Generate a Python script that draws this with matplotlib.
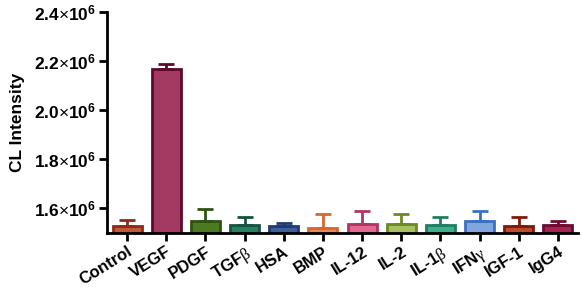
import matplotlib
matplotlib.use('Agg')
import matplotlib.pyplot as plt
import numpy as np

plt.rcParams['font.family'] = ['Liberation Sans', 'DejaVu Sans']
plt.rcParams['mathtext.fontset'] = 'custom'
plt.rcParams['mathtext.rm'] = 'Liberation Sans'
plt.rcParams['mathtext.bf'] = 'Liberation Sans:bold'
plt.rcParams['mathtext.it'] = 'Liberation Serif'

labels = ['Control', 'VEGF', 'PDGF', r'TGF$\beta$', 'HSA', 'BMP', 'IL-12',
          'IL-2', r'IL-1$\beta$', r'IFN$\gamma$', 'IGF-1', 'IgG4']
means = [1.527e6, 2.167e6, 1.547e6, 1.531e6, 1.528e6, 1.520e6, 1.537e6,
         1.537e6, 1.531e6, 1.548e6, 1.528e6, 1.532e6]
errs = [0.024e6, 0.022e6, 0.049e6, 0.032e6, 0.012e6, 0.056e6, 0.052e6,
        0.040e6, 0.034e6, 0.041e6, 0.035e6, 0.015e6]
fills = ['#c2583a', '#a33a62', '#4c7a22', '#2a7e66', '#3d5f9c', '#e9895a',
         '#df6b92', '#a9bf63', '#3fae8e', '#7fa6dd', '#bd4a2c', '#a32452']
edges = ['#8e2c16', '#5e0a2c', '#2f5410', '#145440', '#1f3a74', '#d2692f',
         '#b23465', '#6c8a22', '#1e8060', '#3a70c0', '#7e1a0c', '#6e0c30']
yticks = [1.6e6, 1.8e6, 2.0e6, 2.2e6, 2.4e6]

fig = plt.figure(figsize=(5.82, 2.89), dpi=100)
ax = fig.add_axes([0.184, 0.194, 0.809, 0.764])

x = np.arange(len(labels))
base = 1.5e6
ax.bar(x, np.array(means) - base, bottom=base, width=0.74, color=fills,
       edgecolor=edges, linewidth=2, zorder=2)
for xi, m, e, c in zip(x, means, errs, edges):
    ax.errorbar(xi, m, yerr=[[0], [e]], fmt='none', ecolor=c, elinewidth=2,
                capsize=6, capthick=2, zorder=3)

ax.set_xlim(-0.51, 11.51)
ax.set_ylim(base, 2.4e6)
ax.set_yticks(yticks)
ax.set_yticklabels([r'$\mathbf{%.1f}{\times}\mathbf{10^{6}}$' % (v / 1e6) for v in yticks],
                   fontsize=12.5)
ax.set_xticks(x)
ax.set_xticklabels(labels, rotation=32, ha='right', rotation_mode='anchor',
                   fontsize=12, fontweight='bold')
ax.set_ylabel('CL Intensity', fontsize=12.5, fontweight='bold', labelpad=6)

for s in ['top', 'right']:
    ax.spines[s].set_visible(False)
for s in ['left', 'bottom']:
    ax.spines[s].set_linewidth(2)
ax.tick_params(width=2, length=6, pad=2)

fig.savefig('out.png', dpi=100)
